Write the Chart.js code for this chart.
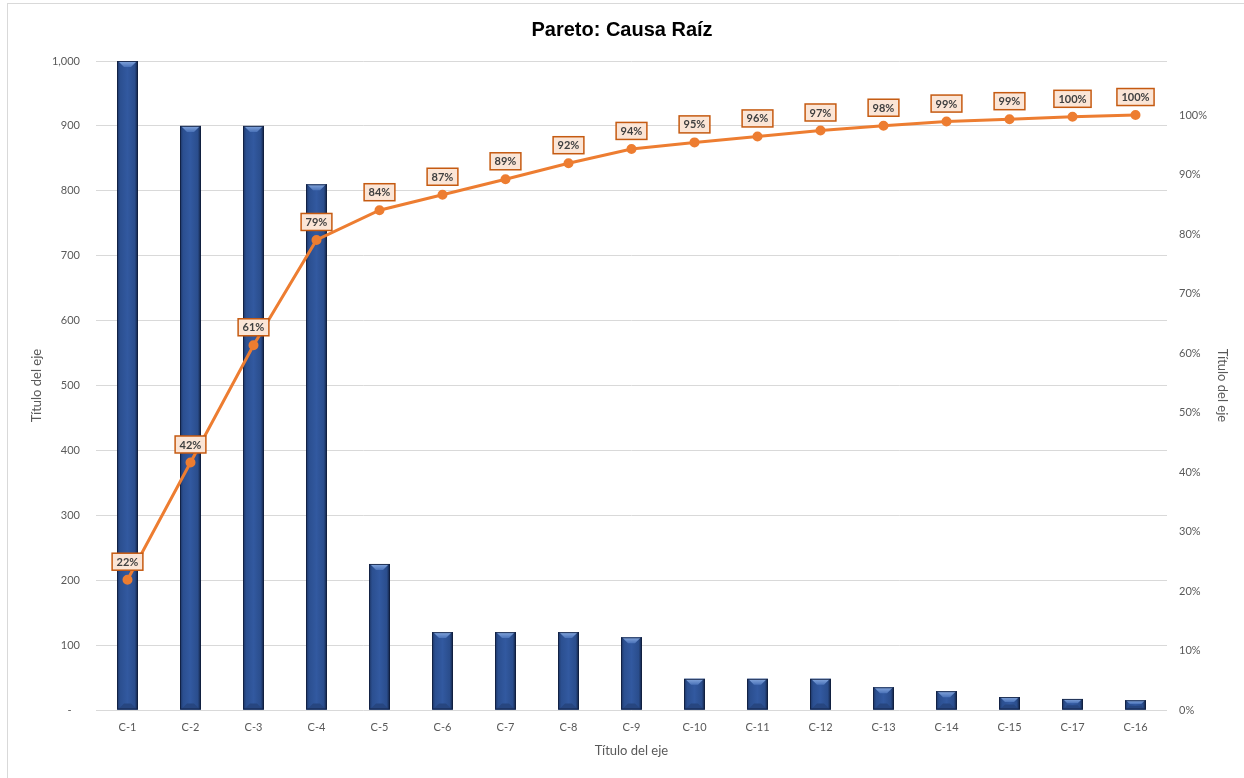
<!DOCTYPE html>
<html>
<head>
<meta charset="utf-8">
<title>Pareto: Causa Raíz</title>
<script src="https://cdn.jsdelivr.net/npm/chart.js@4/dist/chart.umd.min.js"></script>
<style>
  html, body { margin: 0; padding: 0; background: #ffffff; }
  #wrap { position: relative; width: 1244px; height: 778px; overflow: hidden; }
  #frame { position: absolute; left: 7px; top: 3px; width: 1250px; height: 790px; border: 1px solid #d9d9d9; box-sizing: border-box; pointer-events: none; }
  canvas { display: block; }
</style>
</head>
<body>
<div id="wrap">
  <canvas id="chart" width="1244" height="778"></canvas>
  <div id="frame"></div>
</div>
<script>
// Root causes, ordered as they appear on the axis
const categories = ['C-1', 'C-2', 'C-3', 'C-4', 'C-5', 'C-6', 'C-7', 'C-8', 'C-9',
                    'C-10', 'C-11', 'C-12', 'C-13', 'C-14', 'C-15', 'C-17', 'C-16'];

// Occurrences per cause (left axis)
const occurrences = [1000, 900, 900, 810, 225, 120, 120, 120, 112,
                     48, 48, 48, 35, 29, 20, 17, 15];

// Cumulative share of all occurrences (right axis)
const cumulativeShare = [0.219, 0.416, 0.613, 0.790, 0.840, 0.866, 0.892, 0.919, 0.943,
                         0.954, 0.964, 0.974, 0.982, 0.989, 0.993, 0.997, 1.000];

// Tick settings
const countTicks = { min: 0, max: 1000, step: 100 };
const shareTicks = { min: 0, max: 1.0908, step: 0.1, last: 1.0 };

const AXIS_FONT = 'Lato';
const TEXT_GREY = '#595959';

// Bevelled, shaded bar bodies painted over the plain bars
const bevelBars = {
  id: 'bevelBars',
  afterDatasetDraw(chart, args) {
    const ds = chart.data.datasets[args.index];
    if (ds.type !== 'bar') return;
    const ctx = chart.ctx;
    ctx.save();
    args.meta.data.forEach(el => {
      const { x, y, base, width } = el.getProps(['x', 'y', 'base', 'width'], true);
      const l = x - width / 2, r = x + width / 2, h = base - y;
      if (h <= 0) return;
      const g = ctx.createLinearGradient(l, 0, r, 0);
      g.addColorStop(0, '#1d3462');
      g.addColorStop(0.15, '#2b4f90');
      g.addColorStop(0.5, '#3259a0');
      g.addColorStop(0.85, '#2a4d8c');
      g.addColorStop(1, '#111f3d');
      ctx.fillStyle = g;
      ctx.fillRect(l, y, width, h);

      const b = Math.min(6, h / 2.5);
      // light cap at the top
      ctx.beginPath();
      ctx.moveTo(l + 1, y);
      ctx.lineTo(r - 1, y);
      ctx.lineTo(r - 1 - b, y + b);
      ctx.lineTo(l + 1 + b, y + b);
      ctx.closePath();
      const tg = ctx.createLinearGradient(0, y, 0, y + b);
      tg.addColorStop(0, '#86a8de');
      tg.addColorStop(1, '#4a72b8');
      ctx.fillStyle = tg;
      ctx.fill();

      // darker foot
      ctx.beginPath();
      ctx.moveTo(l + 1, base);
      ctx.lineTo(r - 1, base);
      ctx.lineTo(r - 1 - b, base - b);
      ctx.lineTo(l + 1 + b, base - b);
      ctx.closePath();
      ctx.fillStyle = '#274680';
      ctx.fill();

      ctx.strokeStyle = 'rgba(18,32,64,0.85)';
      ctx.lineWidth = 1;
      ctx.strokeRect(l + 0.5, y + 0.5, width - 1, h - 1);
    });
    ctx.restore();
  }
};

// Boxed percentage labels above each cumulative point
const shareLabels = {
  id: 'shareLabels',
  afterDatasetsDraw(chart) {
    const idx = chart.data.datasets.findIndex(d => d.type === 'line');
    const meta = chart.getDatasetMeta(idx);
    const ctx = chart.ctx;
    ctx.save();
    ctx.font = 'bold 11px ' + AXIS_FONT;
    ctx.textAlign = 'center';
    ctx.textBaseline = 'middle';
    meta.data.forEach((pt, i) => {
      const text = Math.round(cumulativeShare[i] * 100) + '%';
      const w = ctx.measureText(text).width + 9;
      const hBox = 17;
      const cx = pt.x, cy = pt.y - 18;
      ctx.fillStyle = '#fbe5d6';
      ctx.fillRect(cx - w / 2, cy - hBox / 2, w, hBox);
      ctx.strokeStyle = '#c55a11';
      ctx.lineWidth = 1.5;
      ctx.strokeRect(cx - w / 2, cy - hBox / 2, w, hBox);
      ctx.fillStyle = '#404040';
      ctx.fillText(text, cx, cy + 0.5);
    });
    ctx.restore();
  }
};

new Chart(document.getElementById('chart'), {
  data: {
    labels: categories,
    datasets: [
      {
        type: 'line',
        label: 'Acumulado',
        data: cumulativeShare,
        yAxisID: 'y1',
        order: 0,
        borderColor: '#ed7d31',
        backgroundColor: '#ed7d31',
        borderWidth: 3,
        pointRadius: 3.5,
        pointBackgroundColor: '#ed7d31',
        pointBorderColor: '#ed7d31',
        tension: 0
      },
      {
        type: 'bar',
        label: 'Frecuencia',
        data: occurrences,
        yAxisID: 'y',
        order: 1,
        backgroundColor: '#2f5597',
        borderWidth: 0,
        barPercentage: 0.333,
        categoryPercentage: 1
      }
    ]
  },
  options: {
    responsive: false,
    animation: false,
    layout: { padding: 0 },
    plugins: {
      legend: { display: false },
      tooltip: { enabled: false },
      title: {
        display: true,
        text: 'Pareto: Causa Raíz',
        color: '#000000',
        font: { family: 'Liberation Sans', weight: 'bold', size: 20 },
        padding: { top: 18, bottom: 19 }
      }
    },
    scales: {
      x: {
        offset: true,
        grid: { display: false, drawTicks: false },
        border: { display: false },
        ticks: { color: TEXT_GREY, font: { family: AXIS_FONT, size: 11 }, padding: 11, maxRotation: 0, autoSkip: false },
        title: { display: true, text: 'Título del eje', color: TEXT_GREY, font: { family: AXIS_FONT, size: 13 }, padding: { top: 0, bottom: 19 } },
        afterFit(scale) { scale.height = 68; }
      },
      y: {
        position: 'left',
        min: countTicks.min,
        max: countTicks.max,
        grid: { color: '#d9d9d9', lineWidth: 1, drawTicks: false },
        border: { display: false },
        ticks: {
          stepSize: countTicks.step,
          color: TEXT_GREY,
          font: { family: AXIS_FONT, size: 11 },
          padding: 16,
          callback: v => v === 0 ? '-   ' : v.toLocaleString('en-US')
        },
        title: { display: true, text: 'Título del eje', color: TEXT_GREY, font: { family: AXIS_FONT, size: 13 }, padding: { top: 29, bottom: 0 } },
        afterFit(scale) { scale.width = 96; }
      },
      y1: {
        position: 'right',
        min: shareTicks.min,
        max: shareTicks.max,
        grid: { display: false, drawTicks: false },
        border: { display: false },
        ticks: {
          stepSize: shareTicks.step,
          color: TEXT_GREY,
          font: { family: AXIS_FONT, size: 11 },
          padding: 12,
          callback: v => Math.round(v * 100) + '%'
        },
        afterBuildTicks(scale) {
          scale.ticks = scale.ticks.filter(t => t.value <= shareTicks.last + 1e-6);
        },
        title: { display: true, text: 'Título del eje', color: TEXT_GREY, font: { family: AXIS_FONT, size: 13 }, padding: { top: 14, bottom: 0 } },
        afterFit(scale) { scale.width = 77; }
      }
    }
  },
  plugins: [bevelBars, shareLabels]
});
</script>
</body>
</html>
